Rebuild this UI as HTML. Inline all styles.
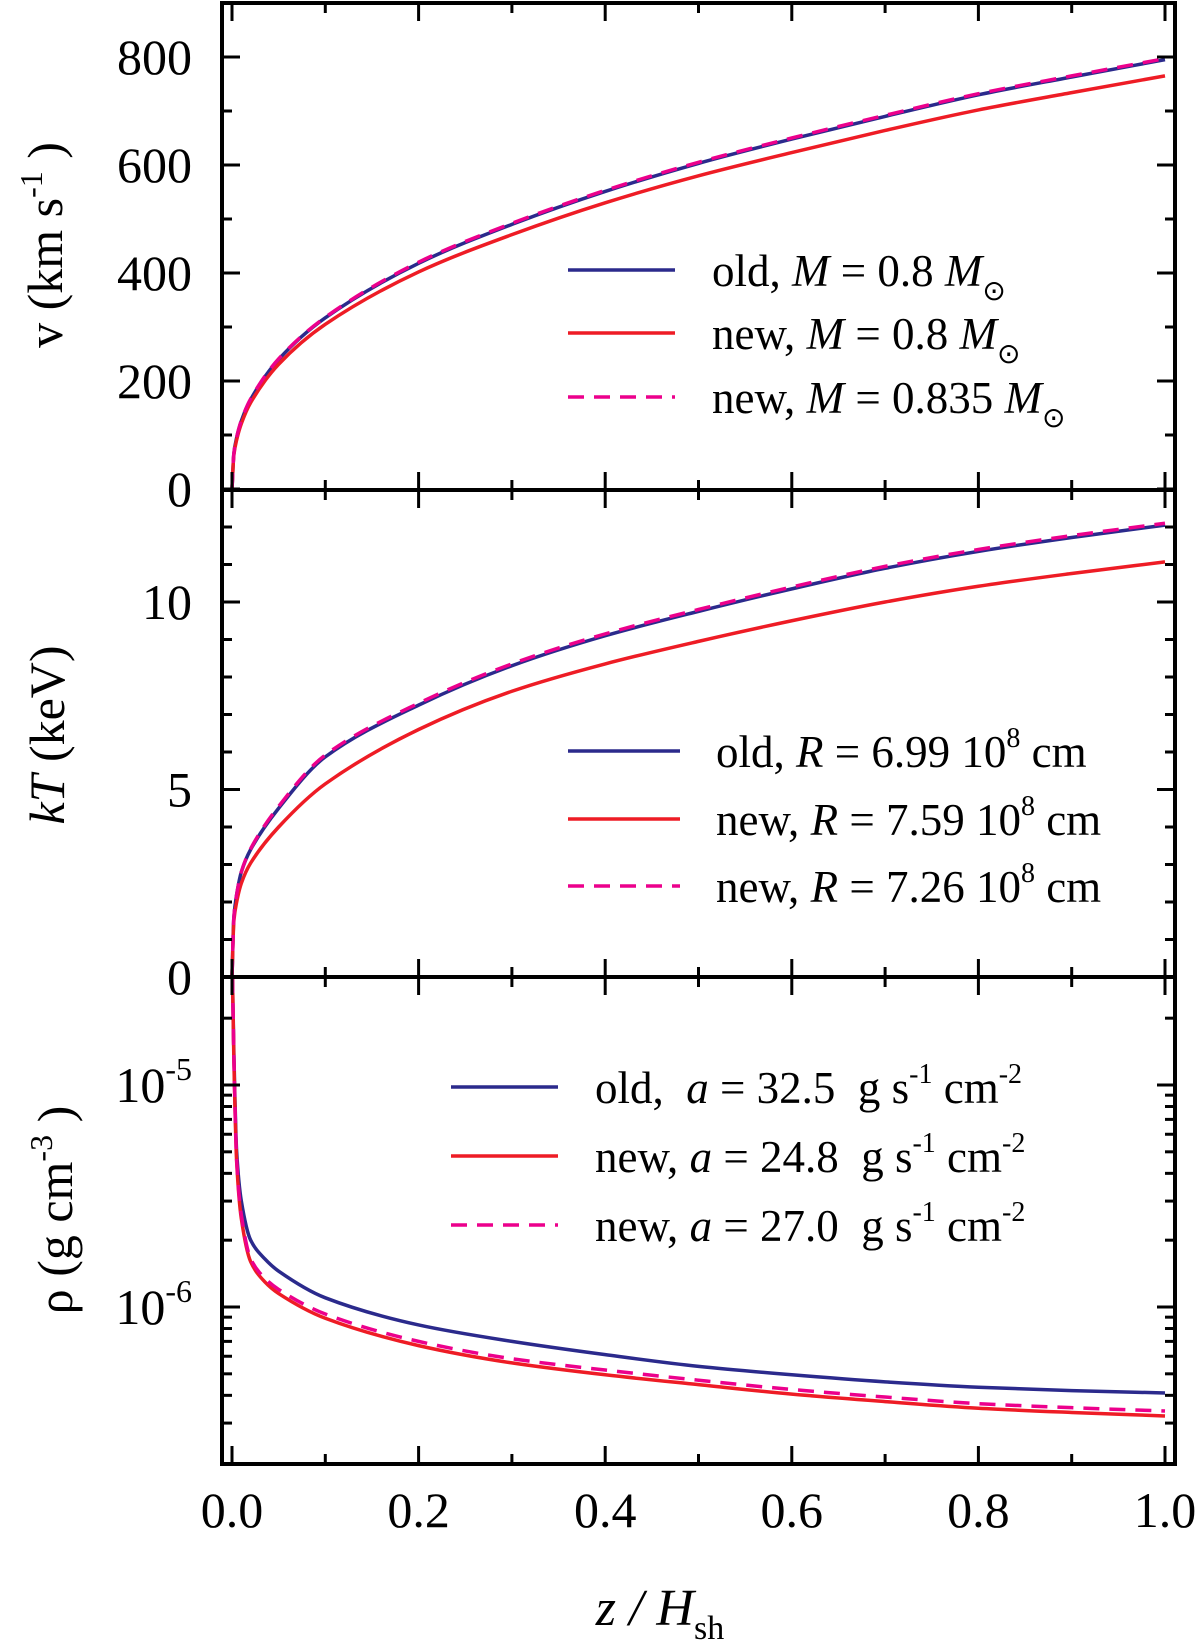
<!DOCTYPE html>
<html><head><meta charset="utf-8"><style>
html,body{margin:0;padding:0;background:#fff}
svg{display:block}
text{font-family:"Liberation Serif",serif;fill:#000}
</style></head><body>
<svg id="chart" width="1200" height="1652" viewBox="0 0 1200 1652" xmlns="http://www.w3.org/2000/svg">
<g id="marks"></g>
<g id="axes"></g>
<g id="labels"></g>
</svg>
<script>
// ---- data ----
const xs = [0,0.002,0.005,0.01,0.02,0.05,0.1,0.2,0.3,0.4,0.5,0.6,0.7,0.8,0.9,1.0];
const vOld = [0,66,95,126,166,240,317,418,490,551,603,648,690,730,763,795];
const vNew = [0,63,91,121,160,231,305,402,471,530,580,623,664,702,734,765];
const vNew835 = [0,66,96,127,167,241,318,420,492,553,605,650,692,732,765,797];
const kTOld = [0,1.6,2.2,2.8,3.4,4.5,5.87,7.25,8.3,9.1,9.75,10.35,10.9,11.35,11.72,12.05];
const kTNew = [0,1.5,2.0,2.5,3.04,4.0,5.15,6.6,7.62,8.35,8.95,9.5,10.0,10.42,10.76,11.07];
const kTNew726 = [0,1.6,2.2,2.8,3.42,4.55,5.92,7.3,8.35,9.15,9.8,10.4,10.95,11.4,11.77,12.1];
const xsRho = [0.0005,0.002,0.005,0.01,0.02,0.035,0.05,0.1,0.2,0.3,0.4,0.5,0.6,0.7,0.8,0.9,1.0];
const rhoOld = [4e-5,1.4e-5,5e-6,3e-6,2.0e-6,1.65e-6,1.45e-6,1.1e-6,8.3e-7,7.0e-7,6.1e-7,5.4e-7,4.95e-7,4.6e-7,4.35e-7,4.2e-7,4.1e-7];
const rhoNew = [4e-5,1.3e-5,4.5e-6,2.5e-6,1.6e-6,1.3e-6,1.15e-6,8.9e-7,6.7e-7,5.6e-7,4.95e-7,4.47e-7,4.05e-7,3.75e-7,3.5e-7,3.35e-7,3.23e-7];
const rhoNew270 = [4e-5,1.35e-5,4.6e-6,2.6e-6,1.65e-6,1.35e-6,1.2e-6,9.3e-7,7.0e-7,5.85e-7,5.2e-7,4.68e-7,4.25e-7,3.93e-7,3.67e-7,3.52e-7,3.4e-7];
const xTicks = [0,0.2,0.4,0.6,0.8,1.0];
const xTickLabels = ["0.0","0.2","0.4","0.6","0.8","1.0"];
const vTicks = [0,200,400,600,800];
const kTTicks = [0,5,10];

// ---- layout ----
const L=222,R=1175;
const P1={top:3,bot:490}, P2={top:490,bot:977}, P3={top:977,bot:1464};
const X=x=>232+x*(1165-232);
const Yv=v=>489-v*108/200;
const YkT=k=>977-k*37.5;
const Yr=r=>1085-(Math.log10(r)+5)*222;
const NS='http://www.w3.org/2000/svg';
const marks=document.getElementById('marks'), axes=document.getElementById('axes'), labels=document.getElementById('labels');
function mk(tag,attrs,parent){const e=document.createElementNS(NS,tag);for(const k in attrs)e.setAttribute(k,attrs[k]);parent.appendChild(e);return e;}

// monotone cubic (Fritsch-Carlson) path through pixel points
function smoothPath(px,py){
  const n=px.length,d=[],m=new Array(n);
  for(let i=0;i<n-1;i++)d.push((py[i+1]-py[i])/(px[i+1]-px[i]));
  m[0]=d[0];m[n-1]=d[n-2];
  for(let i=1;i<n-1;i++)m[i]=(d[i-1]*d[i]<=0)?0:2/(1/d[i-1]+1/d[i]);
  let s='M'+px[0].toFixed(1)+' '+py[0].toFixed(1);
  for(let i=0;i<n-1;i++){const h=px[i+1]-px[i];
    s+='C'+(px[i]+h/3).toFixed(2)+' '+(py[i]+m[i]*h/3).toFixed(2)+' '+(px[i+1]-h/3).toFixed(2)+' '+(py[i+1]-m[i+1]*h/3).toFixed(2)+' '+px[i+1].toFixed(2)+' '+py[i+1].toFixed(2);}
  return s;
}
function series(xa,ya,Y,color,dash,name,clipTop){
  const px=xa.map(X), py=ya.map(v=>{let y=Y(v);if(clipTop!==undefined&&y<clipTop)y=clipTop;return y;});
  const p=mk('path',{d:smoothPath(px,py),fill:'none',stroke:color,'stroke-width':3.5,'stroke-linejoin':'round'},marks);
  if(dash)p.setAttribute('stroke-dasharray','16 10');
  
  
}
const BLUE='#2b2a8c',RED='#ee1c25',MAG='#ec008c';
series(xs,vOld,Yv,BLUE,false,'v-old-line');
series(xs,vNew,Yv,RED,false,'v-new-line');
series(xs,vNew835,Yv,MAG,true,'v-new-0835-line');
series(xs,kTOld,YkT,BLUE,false,'kt-old-line');
series(xs,kTNew,YkT,RED,false,'kt-new-line');
series(xs,kTNew726,YkT,MAG,true,'kt-new-726-line');
series(xsRho,rhoOld,Yr,BLUE,false,'rho-old-line',977);
series(xsRho,rhoNew,Yr,RED,false,'rho-new-line',977);
series(xsRho,rhoNew270,Yr,MAG,true,'rho-new-270-line',977);

// ---- axes ----
function line(x1,y1,x2,y2,w){return mk('line',{x1,y1,x2,y2,stroke:'#000','stroke-width':w||3},axes);}
const fr=mk('rect',{x:L,y:P1.top,width:R-L,height:P3.bot-P1.top,fill:'none',stroke:'#000','stroke-width':4},axes);


line(L,P1.bot,R,P1.bot,4);line(L,P2.bot,R,P2.bot,4);
[P1,P2,P3].forEach(P=>{
  for(let i=0;i<=10;i++){const x=X(i/10),len=i%2?10:18;
    line(x,P.top,x,P.top+len);line(x,P.bot,x,P.bot-len);}
});
for(let v=0;v<=900;v+=100){const y=Yv(v);if(y<P1.top+2)continue;const len=v%200?10:18;line(L,y,L+len,y);line(R,y,R-len,y);}
vTicks.forEach(v=>{const t=mk('text',{x:192,y:Yv(v)+17,'font-size':50,'text-anchor':'end'},labels);t.textContent=v;
  
  });
for(let k=0;k<=13;k++){const y=YkT(k);const len=k%5?10:18;line(L,y,L+len,y);line(R,y,R-len,y);}
kTTicks.forEach(k=>{const t=mk('text',{x:192,y:YkT(k)+17,'font-size':50,'text-anchor':'end'},labels);t.textContent=k;
  
  });
for(let e=-7;e<=-5;e++){for(let m=1;m<=9;m++){const r=m*Math.pow(10,e);const y=Yr(r);if(y<P3.top+3||y>P3.bot-3)continue;const len=m==1?18:10;line(L,y,L+len,y);line(R,y,R-len,y);}}
[-5,-6].forEach(e=>{const t=mk('text',{x:192,y:Yr(Math.pow(10,e))+17,'font-size':50,'text-anchor':'end'},labels);
  t.innerHTML='10<tspan dy="-22" font-size="32">'+e+'</tspan>';
  
  });
xTicks.forEach((x,i)=>{const t=mk('text',{x:X(x),y:1527,'font-size':50,'text-anchor':'middle'},labels);t.textContent=xTickLabels[i];
  
  });
</script>
<svg style="position:absolute;left:0;top:0" width="1200" height="1652" xmlns="http://www.w3.org/2000/svg">
<g transform="translate(62,245) rotate(-90)"><text x="0" y="0" font-size="50" text-anchor="middle">v (km s<tspan dy="-20" font-size="32">-1</tspan><tspan dy="20"> )</tspan></text></g>
<g transform="translate(64,735) rotate(-90)"><text x="0" y="0" font-size="50" text-anchor="middle"><tspan font-style="italic">kT</tspan> (keV)</text></g>
<g transform="translate(72,1210) rotate(-90)"><text x="0" y="0" font-size="50" text-anchor="middle">ρ (g cm<tspan dy="-20" font-size="32">-3</tspan><tspan dy="20"> )</tspan></text></g>
<text x="660" y="1625" font-size="52" text-anchor="middle" font-style="italic">z / H<tspan dy="14" font-size="34" font-style="normal">sh</tspan></text>

<g font-size="45">
<line x1="568" y1="270" x2="675" y2="270" stroke="#2b2a8c" stroke-width="3.5"/>
<text x="712" y="286">old, <tspan font-style="italic">M</tspan> = 0.8 <tspan font-style="italic">M</tspan><tspan dy="14" font-size="28">⊙</tspan></text>
<line x1="568" y1="333" x2="675" y2="333" stroke="#ee1c25" stroke-width="3.5"/>
<text x="712" y="349">new, <tspan font-style="italic">M</tspan> = 0.8 <tspan font-style="italic">M</tspan><tspan dy="14" font-size="28">⊙</tspan></text>
<line x1="568" y1="397" x2="675" y2="397" stroke="#ec008c" stroke-width="3.5" stroke-dasharray="16 10"/>
<text x="712" y="413">new, <tspan font-style="italic">M</tspan> = 0.835 <tspan font-style="italic">M</tspan><tspan dy="14" font-size="28">⊙</tspan></text>
</g>
<g font-size="45">
<line x1="568" y1="751" x2="680" y2="751" stroke="#2b2a8c" stroke-width="3.5"/>
<text x="716" y="767">old, <tspan font-style="italic">R</tspan> = 6.99 10<tspan dy="-20" font-size="28">8</tspan><tspan dy="20"> cm</tspan></text>
<line x1="568" y1="819" x2="680" y2="819" stroke="#ee1c25" stroke-width="3.5"/>
<text x="716" y="835">new, <tspan font-style="italic">R</tspan> = 7.59 10<tspan dy="-20" font-size="28">8</tspan><tspan dy="20"> cm</tspan></text>
<line x1="568" y1="886" x2="680" y2="886" stroke="#ec008c" stroke-width="3.5" stroke-dasharray="16 10"/>
<text x="716" y="902">new, <tspan font-style="italic">R</tspan> = 7.26 10<tspan dy="-20" font-size="28">8</tspan><tspan dy="20"> cm</tspan></text>
</g>
<g font-size="45">
<line x1="451" y1="1087" x2="558" y2="1087" stroke="#2b2a8c" stroke-width="3.5"/>
<text x="595" y="1103" xml:space="preserve">old,  <tspan font-style="italic">a</tspan> = 32.5  g s<tspan dy="-20" font-size="28">-1</tspan><tspan dy="20"> cm</tspan><tspan dy="-20" font-size="28">-2</tspan></text>
<line x1="451" y1="1156" x2="558" y2="1156" stroke="#ee1c25" stroke-width="3.5"/>
<text x="595" y="1172" xml:space="preserve">new, <tspan font-style="italic">a</tspan> = 24.8  g s<tspan dy="-20" font-size="28">-1</tspan><tspan dy="20"> cm</tspan><tspan dy="-20" font-size="28">-2</tspan></text>
<line x1="451" y1="1225" x2="558" y2="1225" stroke="#ec008c" stroke-width="3.5" stroke-dasharray="16 10"/>
<text x="595" y="1241" xml:space="preserve">new, <tspan font-style="italic">a</tspan> = 27.0  g s<tspan dy="-20" font-size="28">-1</tspan><tspan dy="20"> cm</tspan><tspan dy="-20" font-size="28">-2</tspan></text>
</g>
</svg>
</body></html>
